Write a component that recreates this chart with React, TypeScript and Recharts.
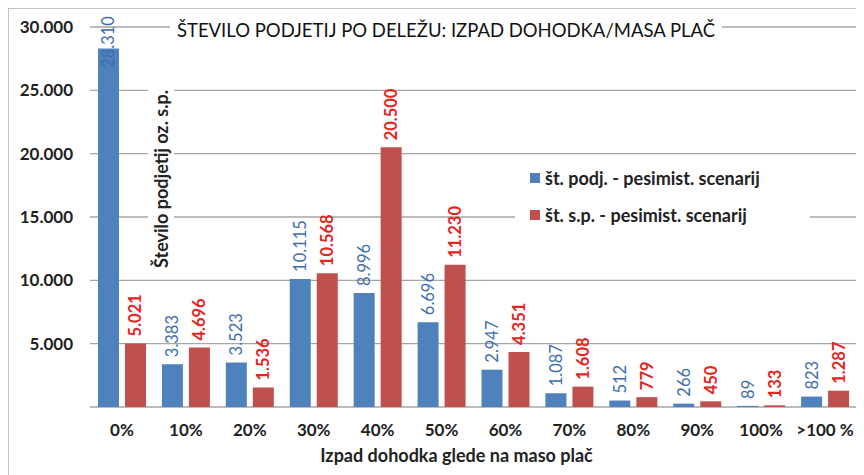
import React from 'react';
import { BarChart, Bar, XAxis, YAxis, CartesianGrid, Legend, LabelList } from 'recharts';

const categories = ['0%', '10%', '20%', '30%', '40%', '50%', '60%', '70%', '80%', '90%', '100%', '>100 %'];
const podjetja = [28310, 3383, 3523, 10115, 8996, 6696, 2947, 1087, 512, 266, 89, 823];
const samostojni = [5021, 4696, 1536, 10568, 20500, 11230, 4351, 1608, 779, 450, 133, 1287];
const yTicks = [0, 5000, 10000, 15000, 20000, 25000, 30000];

const seriesNames = ['št. podj. - pesimist. scenarij', 'št. s.p. - pesimist. scenarij'];
const BLUE = '#4f81bd';
const RED = '#c0504d';
const FONT = 'Lato, "Open Sans", sans-serif';

const data = categories.map((name, i) => ({ name, podj: podjetja[i], sp: samostojni[i] }));

const fmt = (v: number) => String(v).replace(/\B(?=(\d{3})+(?!\d))/g, '.');

const makeLabel = (color: string, weight: number) => (props: any) => {
  const { x, y, width, value } = props;
  const cx = Number(x) + Number(width) / 2;
  const txt = fmt(Number(value));
  const len = txt.length * 8.8;
  // keep label inside the chart like Excel does
  const start = Math.max(Number(y) - 7, 7 + len);
  return (
    <text
      x={cx}
      y={start}
      transform={`rotate(-90 ${cx} ${start})`}
      textAnchor="start"
      dominantBaseline="central"
      fill={color}
      fontWeight={weight}
      fontSize={16.5}
      fontFamily={FONT}
    >
      {txt}
    </text>
  );
};

const renderLegend = () => (
  <div style={{ fontFamily: FONT, fontWeight: 700, fontSize: 18, color: '#222', paddingLeft: 15, paddingTop: 4 }}>
    {[BLUE, RED].map((c, i) => (
      <div key={i} style={{ display: 'flex', alignItems: 'center', height: 37 }}>
        <span style={{ display: 'inline-block', width: 10, height: 10, background: c, marginRight: 5 }} />
        <span>{seriesNames[i]}</span>
      </div>
    ))}
  </div>
);

const renderXTitle = (props: any) => {
  const { viewBox } = props;
  const cx = viewBox.x + viewBox.width / 2 - 17;
  return (
    <text x={cx} y={viewBox.y + 48} textAnchor="middle" dominantBaseline="central" fontFamily={FONT} fontWeight={700} fontSize={18} fill="#222">
      Izpad dohodka glede na maso plač
    </text>
  );
};

export default function App() {
  return (
    <div style={{ position: 'relative', width: 856, height: 467, background: '#fff' }}>
      <BarChart width={856} height={467} data={data} margin={{ top: 19, right: 7, left: 0, bottom: 0 }} barSize={21} barGap={6}>
        <CartesianGrid vertical={false} stroke="#a6a6a6" strokeWidth={1.3} />
        <XAxis
          dataKey="name"
          height={68}
          axisLine={false}
          tickLine={false}
          tickSize={0}
          tickMargin={17}
          interval={0}
          tick={{ fontFamily: FONT, fontWeight: 700, fontSize: 17, fill: '#222' }}
          label={{ content: renderXTitle }}
        />
        <YAxis
          width={82}
          domain={[0, 30000]}
          ticks={yTicks}
          axisLine={false}
          tickLine={false}
          tickSize={0}
          tickMargin={17}
          tickFormatter={(v: number) => (v === 0 ? '' : fmt(v))}
          tick={{ fontFamily: FONT, fontWeight: 700, fontSize: 17, fill: '#222' }}
        />
        <Legend
          layout="horizontal"
          verticalAlign="middle"
          align="center"
          content={renderLegend}
          wrapperStyle={{ left: 507, top: 147, width: 295, height: 80, background: '#fff' }}
        />
        <Bar dataKey="podj" name={seriesNames[0]} fill={BLUE} isAnimationActive={false}>
          <LabelList dataKey="podj" content={makeLabel('#3f6fa9', 400)} />
        </Bar>
        <Bar dataKey="sp" name={seriesNames[1]} fill={RED} isAnimationActive={false}>
          <LabelList dataKey="sp" content={makeLabel('#e3261f', 700)} />
        </Bar>
      </BarChart>
      <div style={{ position: 'absolute', left: 0, top: 0, right: 0, bottom: 0, borderLeft: '1px solid #c4c4c4', borderTop: '1px solid #c4c4c4', pointerEvents: 'none' }} />
      <div
        style={{
          position: 'absolute',
          left: 162,
          top: 9,
          width: 552,
          height: 26,
          background: '#fff',
          fontFamily: FONT,
          fontSize: 18.5,
          color: '#111',
          textAlign: 'center',
          lineHeight: '26px',
          whiteSpace: 'nowrap',
        }}
      >
        ŠTEVILO PODJETIJ PO DELEŽU: IZPAD DOHODKA/MASA PLAČ
      </div>
      <div
        style={{
          position: 'absolute',
          left: 153,
          top: 171,
          transform: 'translate(-50%, -50%) rotate(-90deg)',
          background: '#fff',
          padding: '2px 6px',
          fontFamily: FONT,
          fontWeight: 700,
          fontSize: 18,
          color: '#222',
          whiteSpace: 'nowrap',
        }}
      >
        Število podjetij oz. s.p.
      </div>
    </div>
  );
}
